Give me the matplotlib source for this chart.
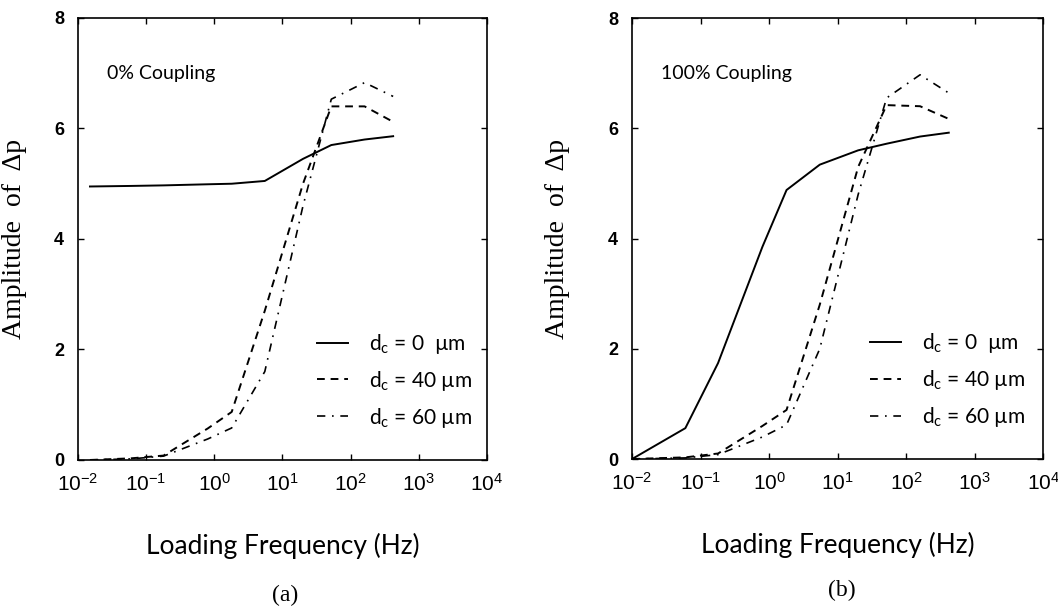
import matplotlib.pyplot as plt
import numpy as np

# frequencies (Hz)
freq_a = [0.015, 0.06, 0.18, 0.8, 1.8, 5.5, 20, 52, 160, 420]
freq_b = [0.01, 0.06, 0.18, 0.8, 1.8, 5.5, 20, 52, 160, 420]

# (a) 0% coupling
a_d0 = [4.95, 4.96, 4.97, 4.99, 5.00, 5.05, 5.45, 5.70, 5.80, 5.86]
a_d40 = [0.0, 0.03, 0.08, 0.57, 0.87, 2.70, 5.00, 6.40, 6.40, 6.12]
a_d60 = [0.0, 0.02, 0.07, 0.38, 0.58, 1.60, 4.60, 6.53, 6.83, 6.58]

# (b) 100% coupling
b_d0 = [0.0, 0.56, 1.74, 3.85, 4.88, 5.34, 5.60, 5.72, 5.85, 5.92]
b_d40 = [0.0, 0.03, 0.10, 0.60, 0.89, 2.80, 5.30, 6.42, 6.40, 6.17]
b_d60 = [0.0, 0.02, 0.08, 0.40, 0.62, 2.00, 4.80, 6.55, 6.97, 6.64]

yticks = [0, 2, 4, 6, 8]
xticks = [1e-2, 1e-1, 1e0, 1e1, 1e2, 1e3, 1e4]
xticklabels = [r'$\mathregular{10^{%d}}$' % e for e in range(-2, 5)]
legend_labels = [r'd$_\mathregular{c}$ = 0  µm',
                 r'd$_\mathregular{c}$ = 40 µm',
                 r'd$_\mathregular{c}$ = 60 µm']

fig = plt.figure(figsize=(10.58, 6.07), dpi=100)
ax_a = fig.add_axes([0.0737, 0.2422, 0.3866, 0.7282])
ax_b = fig.add_axes([0.5974, 0.2438, 0.3885, 0.7265])


def draw_panel(ax, freq, d0, d40, d60, note, ylab_x, leg_x):
    ax.plot(freq, d0, color='black', lw=1.4, linestyle='-', label=legend_labels[0])
    ax.plot(freq, d40, color='black', lw=1.4, linestyle=(0, (4, 3)), label=legend_labels[1])
    ax.plot(freq, d60, color='black', lw=1.2, linestyle=(0, (5, 4, 1, 4)), label=legend_labels[2])
    ax.set_xscale('log')
    ax.set_xlim(1e-2, 1e4)
    ax.set_ylim(0, 8)
    ax.set_xticks(xticks)
    ax.set_xticklabels(xticklabels, family='Liberation Sans', fontsize=15)
    ax.minorticks_off()
    ax.set_yticks(yticks)
    ax.set_yticklabels([str(v) for v in yticks], family='Liberation Sans',
                       fontweight='bold', fontsize=13)
    ax.tick_params(direction='in', top=True, right=True, length=4, width=1)
    ax.tick_params(axis='x', pad=9)
    ax.tick_params(axis='y', pad=10)
    for s in ax.spines.values():
        s.set_linewidth(1.2)
    ax.set_ylabel('Amplitude  of  Δp', family='Liberation Serif', fontsize=20)
    ax.yaxis.set_label_coords(ylab_x, 0.5)
    ax.set_xlabel('Loading Frequency (Hz)', family='Lato', fontsize=19)
    ax.xaxis.set_label_coords(0.5, -0.165)
    ax.text(0.07, 0.875, note, transform=ax.transAxes, family='Lato',
            fontsize=14, va='center', ha='left')
    ax.legend(loc='upper left', bbox_to_anchor=(leg_x, 0.29), frameon=False,
              handlelength=1.5, handletextpad=1.0, labelspacing=0.62,
              borderaxespad=0, borderpad=0, prop={'family': 'Lato', 'size': 15})


draw_panel(ax_a, freq_a, a_d0, a_d40, a_d60, '0% Coupling', -0.125, 0.584)
draw_panel(ax_b, freq_b, b_d0, b_d40, b_d60, '100% Coupling', -0.15, 0.579)

fig.text(285 / 1058, 1 - 595 / 607, '(a)', family='Liberation Serif', fontsize=17,
         ha='center', va='center')
fig.text(842 / 1058, 1 - 590 / 607, '(b)', family='Liberation Serif', fontsize=17,
         ha='center', va='center')

fig.savefig('out.png', dpi=100)
